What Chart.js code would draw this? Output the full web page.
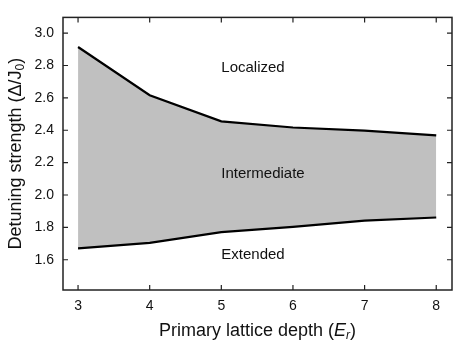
<!DOCTYPE html>
<html>
<head>
<meta charset="utf-8">
<script src="https://cdn.jsdelivr.net/npm/chart.js@4.4.1/dist/chart.umd.min.js"></script>
<style>
  html, body { margin: 0; padding: 0; background: #fff; }
  #wrap { width: 456px; height: 346px; }
</style>
</head>
<body>
<div id="wrap"><canvas id="chart"></canvas></div>
<script>
// lattice depth (E_r)
const depths = [3, 4, 5, 6, 7, 8];
// phase boundaries (Delta / J0)
const upperBoundary = [2.914, 2.616, 2.455, 2.417, 2.397, 2.368];
const lowerBoundary = [1.670, 1.704, 1.771, 1.803, 1.841, 1.861];

const xTicks = [3, 4, 5, 6, 7, 8];
const yTicks = [1.6, 1.8, 2.0, 2.2, 2.4, 2.6, 2.8, 3.0];

const regionNames = ['Localized', 'Intermediate', 'Extended'];
const regionX = [5, 5, 5];
const regionY = [2.783, 2.131, 1.630];

const FONT = '"Liberation Sans", Arial, Helvetica, sans-serif';

function drawRich(ctx, parts, size) {
  // parts: {t, italic, sub}
  const fontFor = p => (p.italic ? 'italic ' : '') + (p.sub ? Math.round(size * 0.68) : size) + 'px ' + FONT;
  let w = 0;
  parts.forEach(p => { ctx.font = fontFor(p); w += ctx.measureText(p.t).width; });
  let x = -w / 2;
  parts.forEach(p => {
    ctx.font = fontFor(p);
    ctx.fillText(p.t, x, p.sub ? size * 0.28 : 0);
    x += ctx.measureText(p.t).width;
  });
}

const framePlugin = {
  id: 'frame',
  afterDraw(chart) {
    const ctx = chart.ctx;
    const a = chart.chartArea;
    const xs = chart.scales.x, ys = chart.scales.y;
    ctx.save();
    ctx.strokeStyle = '#222';
    ctx.lineWidth = 1.5;
    ctx.strokeRect(a.left, a.top, a.right - a.left, a.bottom - a.top);
    ctx.lineWidth = 1.2;
    ctx.beginPath();
    xTicks.forEach(v => {
      const px = xs.getPixelForValue(v);
      ctx.moveTo(px, a.bottom); ctx.lineTo(px, a.bottom - 5);
      ctx.moveTo(px, a.top); ctx.lineTo(px, a.top + 5);
    });
    yTicks.forEach(v => {
      const py = ys.getPixelForValue(v);
      ctx.moveTo(a.left, py); ctx.lineTo(a.left + 5, py);
      ctx.moveTo(a.right, py); ctx.lineTo(a.right - 5, py);
    });
    ctx.stroke();

    // region labels
    ctx.fillStyle = '#111';
    ctx.font = '15px ' + FONT;
    ctx.textAlign = 'left';
    ctx.textBaseline = 'middle';
    regionNames.forEach((t, i) => {
      ctx.fillText(t, xs.getPixelForValue(regionX[i]), ys.getPixelForValue(regionY[i]));
    });

    // axis titles
    ctx.save();
    ctx.translate((a.left + a.right) / 2, 331);
    drawRich(ctx, [
      { t: 'Primary lattice depth (' },
      { t: 'E', italic: true },
      { t: 'r', italic: true, sub: true },
      { t: ')' }
    ], 18);
    ctx.restore();
    ctx.save();
    ctx.translate(16, (a.top + a.bottom) / 2);
    ctx.rotate(-Math.PI / 2);
    drawRich(ctx, [
      { t: 'Detuning strength (\u0394/J' },
      { t: '0', sub: true },
      { t: ')' }
    ], 18);
    ctx.restore();
    ctx.restore();
  }
};

new Chart(document.getElementById('chart'), {
  type: 'line',
  data: {
    datasets: [
      {
        label: 'upper',
        data: depths.map((d, i) => ({ x: d, y: upperBoundary[i] })),
        borderColor: '#000',
        borderWidth: 2.2,
        backgroundColor: '#c0c0c0',
        fill: '+1',
        pointRadius: 0,
        tension: 0
      },
      {
        label: 'lower',
        data: depths.map((d, i) => ({ x: d, y: lowerBoundary[i] })),
        borderColor: '#000',
        borderWidth: 2.2,
        fill: false,
        pointRadius: 0,
        tension: 0
      }
    ]
  },
  options: {
    responsive: true,
    maintainAspectRatio: false,
    animation: false,
    layout: { padding: { left: 0, right: 4, top: 11, bottom: 0 } },
    plugins: {
      legend: { display: false },
      tooltip: { enabled: false },
      filler: { drawTime: 'beforeDatasetsDraw' }
    },
    scales: {
      x: {
        type: 'linear',
        min: 2.79,
        max: 8.22,
        grid: { display: false, drawTicks: false },
        border: { display: false },
        afterBuildTicks: s => { s.ticks = xTicks.map(v => ({ value: v })); },
        afterFit: s => { s.height = 56; },
        ticks: {
          padding: 8,
          color: '#111',
          font: { family: FONT, size: 14 },
          maxRotation: 0
        }
      },
      y: {
        type: 'linear',
        min: 1.413,
        max: 3.097,
        grid: { display: false, drawTicks: false },
        border: { display: false },
        afterBuildTicks: s => { s.ticks = yTicks.map(v => ({ value: v })); },
        afterFit: s => { s.width = 63; },
        ticks: {
          padding: 9,
          color: '#111',
          font: { family: FONT, size: 14 },
          callback: v => v.toFixed(1)
        }
      }
    }
  },
  plugins: [framePlugin]
});
</script>
</body>
</html>
